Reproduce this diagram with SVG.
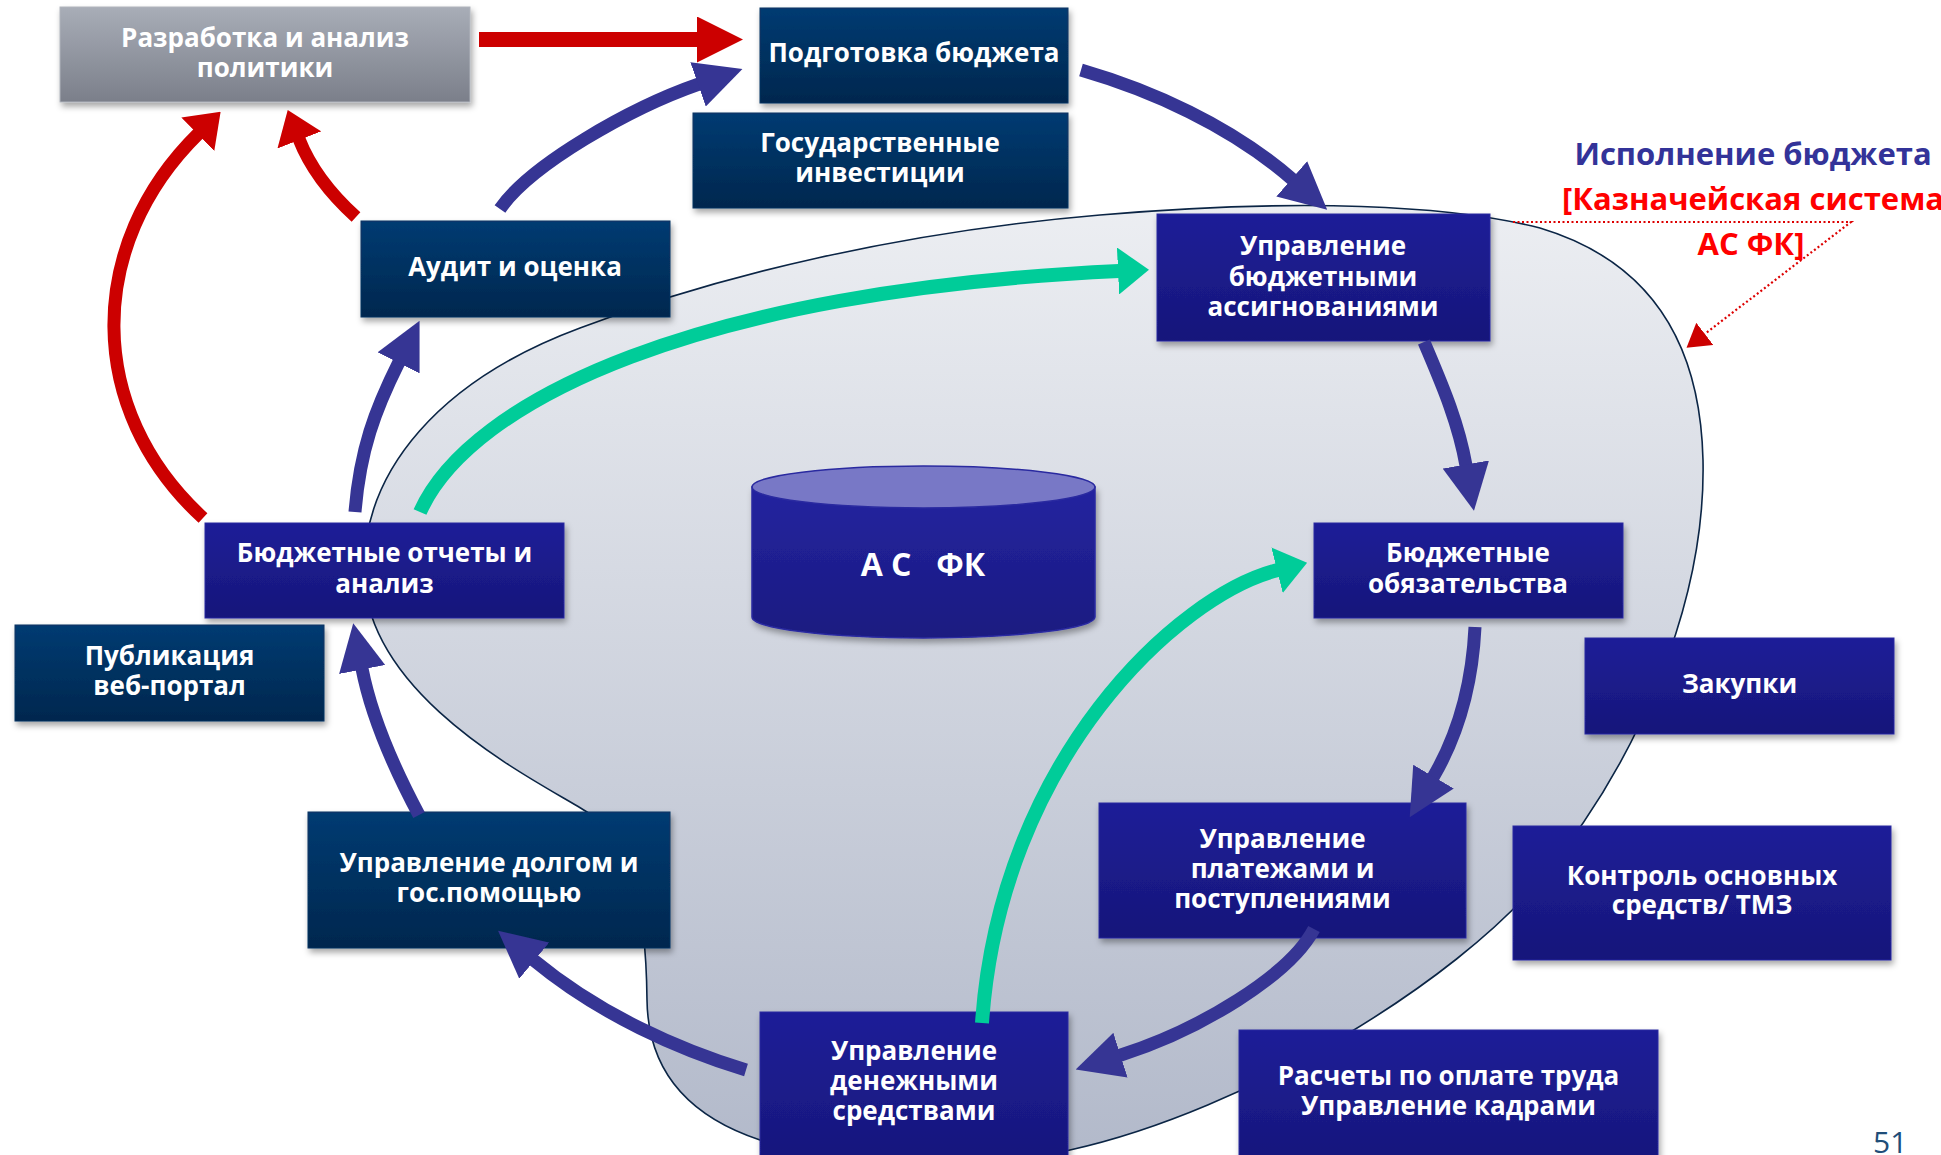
<svg xmlns="http://www.w3.org/2000/svg" width="1941" height="1155" viewBox="0 0 1941 1155">
<defs>
<linearGradient id="gNavy" x1="0" y1="0" x2="0" y2="1"><stop offset="0" stop-color="#053b72"/><stop offset="1" stop-color="#02274e"/></linearGradient>
<linearGradient id="gInd" x1="0" y1="0" x2="0" y2="1"><stop offset="0" stop-color="#1f1f98"/><stop offset="1" stop-color="#16167a"/></linearGradient>
<linearGradient id="gGray" x1="0" y1="0" x2="0" y2="1"><stop offset="0" stop-color="#a8adb7"/><stop offset="1" stop-color="#7b7f8a"/></linearGradient>
<linearGradient id="gBlob" x1="0" y1="0" x2="0" y2="1"><stop offset="0" stop-color="#eceef2"/><stop offset="1" stop-color="#b2b9ca"/></linearGradient>
<linearGradient id="gCyl" x1="0" y1="0" x2="0" y2="1"><stop offset="0" stop-color="#2424a0"/><stop offset="1" stop-color="#1a1a80"/></linearGradient>
<filter id="sh" x="-10%" y="-10%" width="120%" height="130%"><feDropShadow dx="2" dy="4" stdDeviation="3" flood-color="#000" flood-opacity="0.35"/></filter>
<marker id="mb" markerUnits="userSpaceOnUse" markerWidth="47" markerHeight="47" viewBox="0 0 47 47" refX="1" refY="23.5" orient="auto"><path d="M0,0 L47,23.5 L0,47 Z" fill="#363594"/></marker>
<marker id="mr" markerUnits="userSpaceOnUse" markerWidth="46" markerHeight="46" viewBox="0 0 46 46" refX="1" refY="23" orient="auto"><path d="M0,0 L46,23 L0,46 Z" fill="#cc0000"/></marker>
<marker id="mr2" markerUnits="userSpaceOnUse" markerWidth="32" markerHeight="47" viewBox="0 0 32 47" refX="1" refY="23.5" orient="auto"><path d="M0,0 L32,23.5 L0,47 Z" fill="#cc0000"/></marker>
<marker id="mg" markerUnits="userSpaceOnUse" markerWidth="31" markerHeight="47" viewBox="0 0 31 47" refX="1" refY="23.5" orient="auto"><path d="M0,0 L31,23.5 L0,47 Z" fill="#00cc99"/></marker>
<marker id="md" markerUnits="userSpaceOnUse" markerWidth="23" markerHeight="28" viewBox="0 0 23 28" refX="1" refY="14" orient="auto"><path d="M0,0 L23,14 L0,28 Z" fill="#cc0000"/></marker>
</defs>
<style>
.t{font-family:"Open Sans","Noto Sans","DejaVu Sans",sans-serif;font-weight:700;font-size:26px;fill:#fff;text-anchor:middle}
.navy{fill:url(#gNavy);stroke:#0a3360;stroke-width:1;filter:url(#sh)}
.ind{fill:url(#gInd);stroke:#2828a0;stroke-width:1;filter:url(#sh)}
.gray{fill:url(#gGray);stroke:#b0b4bc;stroke-width:1;filter:url(#sh)}
.blue{fill:none;stroke:#363594;stroke-width:13;marker-end:url(#mb)}
.red{fill:none;stroke:#cc0000;stroke-width:13}
.green{fill:none;stroke:#00cc99;stroke-width:14;marker-end:url(#mg)}
.lbl{font-family:"Open Sans","Noto Sans","DejaVu Sans",sans-serif;font-weight:700;font-size:31px;text-anchor:middle}
</style>
<rect width="1941" height="1155" fill="#ffffff"/>
<g id="execution-area">
<path d="M364,570 C364,470 440,380 580,328 C720,275 900,232 1100,215 C1300,198 1450,205 1540,228 C1640,258 1700,330 1703,460 C1706,600 1640,760 1540,880 C1457,980 1250,1110 1070,1150 C980,1170 800,1160 760,1140 C700,1120 648,1080 647,1000 C646,900 630,840 587,812 C544,784 364,700 364,570 Z" fill="url(#gBlob)" stroke="#0b2545" stroke-width="1.6"/>
</g>
<g id="as-fk">
<path d="M752,487 V617 A171.5,21 0 0 0 1095,617 V487 Z" fill="url(#gCyl)" stroke="#2a2aa0" stroke-width="1.5" filter="url(#sh)"/>
<ellipse cx="923.5" cy="487" rx="171.5" ry="21" fill="#7878c6" stroke="#2a2aa0" stroke-width="1.5"/>
<text class="t" x="923" y="576" style="font-size:32px;white-space:pre" xml:space="preserve">А С   ФК</text>
</g>
<g id="policy"><rect class="gray" x="60" y="7" width="410" height="95"/><text class="t" x="265" y="47">Разработка и анализ<tspan x="265" dy="30">политики</tspan></text></g>
<g id="budget-prep"><rect class="navy" x="760" y="8" width="308" height="95"/><text class="t" x="914" y="62">Подготовка бюджета</text></g>
<g id="investments"><rect class="navy" x="693" y="113" width="375" height="95"/><text class="t" x="880" y="152">Государственные<tspan x="880" dy="30">инвестиции</tspan></text></g>
<g id="audit"><rect class="navy" x="361" y="221" width="309" height="96"/><text class="t" x="515" y="276">Аудит и оценка</text></g>
<g id="appropriations"><rect class="ind" x="1157" y="214" width="333" height="127"/><text class="t" x="1323" y="255">Управление<tspan x="1323" dy="30.5">бюджетными</tspan><tspan x="1323" dy="30.5">ассигнованиями</tspan></text></g>
<g id="reports"><rect class="ind" x="205" y="523" width="359" height="95"/><text class="t" x="384.5" y="562">Бюджетные отчеты и<tspan x="384.5" dy="31">анализ</tspan></text></g>
<g id="publication"><rect class="navy" x="15" y="625" width="309" height="96"/><text class="t" x="169.5" y="665">Публикация<tspan x="169.5" dy="30">веб-портал</tspan></text></g>
<g id="commitments"><rect class="ind" x="1314" y="523" width="309" height="95"/><text class="t" x="1468" y="562">Бюджетные<tspan x="1468" dy="31">обязательства</tspan></text></g>
<g id="procurement"><rect class="ind" x="1585" y="638" width="309" height="96"/><text class="t" x="1739.5" y="693">Закупки</text></g>
<g id="payments"><rect class="ind" x="1099" y="803" width="367" height="135"/><text class="t" x="1282.5" y="848">Управление<tspan x="1282.5" dy="30">платежами и</tspan><tspan x="1282.5" dy="30">поступлениями</tspan></text></g>
<g id="assets"><rect class="ind" x="1513" y="826" width="378" height="134"/><text class="t" x="1702" y="885">Контроль основных<tspan x="1702" dy="29">средств/ ТМЗ</tspan></text></g>
<g id="debt"><rect class="navy" x="308" y="812" width="362" height="136"/><text class="t" x="489" y="872">Управление долгом и<tspan x="489" dy="30">гос.помощью</tspan></text></g>
<g id="cash"><rect class="ind" x="760" y="1012" width="308" height="160"/><text class="t" x="914" y="1060">Управление<tspan x="914" dy="30">денежными</tspan><tspan x="914" dy="30">средствами</tspan></text></g>
<g id="payroll"><rect class="ind" x="1239" y="1030" width="419" height="140"/><text class="t" x="1448.5" y="1085">Расчеты по оплате труда<tspan x="1448.5" dy="30">Управление кадрами</tspan></text></g>
<g id="connectors">
<path class="red" d="M479,39.5 H698" style="stroke-width:15" marker-end="url(#mr)"/>
<path class="red" d="M356,217 Q315,180 299,139" marker-end="url(#mr2)"/>
<path class="red" d="M203,518 C85,410 85,245 198.5,133.5" marker-end="url(#mr2)"/>
<path class="blue" d="M500,209 C530,165 630,108 699,84"/>
<path class="blue" d="M355,512 C360,450 375,410 399,362"/>
<path class="green" d="M420,512 C470,400 700,290 1119,271"/>
<path class="blue" d="M1081,70 C1150,90 1230,125 1292.5,179.5"/>
<path class="blue" d="M1424,342 C1440,380 1458,420 1466,465.5"/>
<path class="blue" d="M1475,627 C1472,690 1455,740 1433,777.5"/>
<path class="blue" d="M1314,929 C1290,975 1200,1030 1119.5,1055.5"/>
<path class="blue" d="M746,1070 C680,1050 600,1015 533.5,960"/>
<path class="blue" d="M419,815 C395,770 372,720 362,668.5"/>
<path class="green" d="M982,1023 C1000,760 1178,595 1278,570"/>
<path d="M1513,222 H1851 L1704,334.5" fill="none" stroke="#dd0000" stroke-width="2.2" stroke-dasharray="2 2.5" marker-end="url(#md)"/>
</g>
<g id="labels">
<text class="lbl" x="1753" y="165" fill="#333399">Исполнение бюджета</text>
<text class="lbl" x="1753" y="210" fill="#ff0000">[Казначейская система</text>
<text class="lbl" x="1751" y="255" fill="#ff0000">АС ФК]</text>
</g>
<text x="1873" y="1153" font-family="Open Sans, Noto Sans, sans-serif" font-size="30" fill="#1f4e79">51</text>
</svg>
